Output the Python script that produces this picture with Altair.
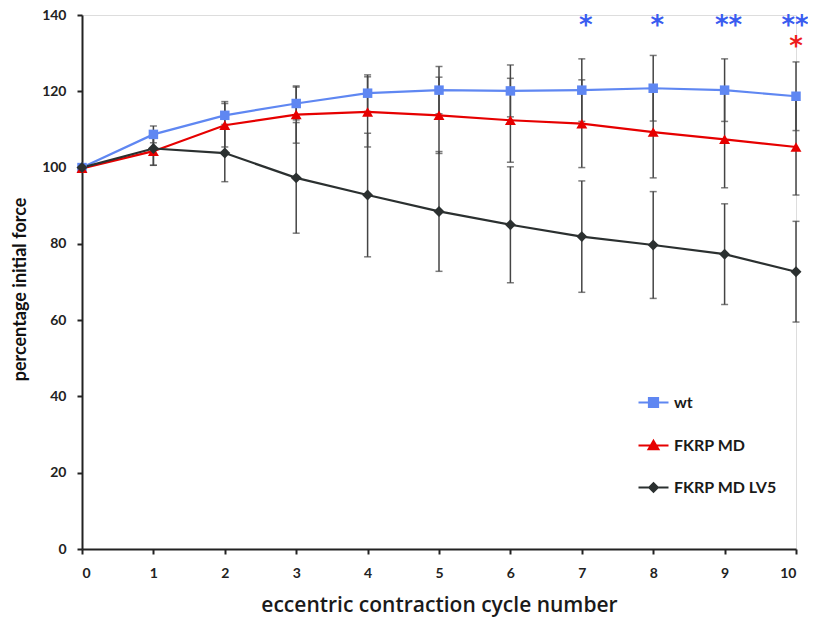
import altair as alt
import pandas as pd

# ---- data ----
cycles = list(range(11))
wt_mean = [100, 108.7, 113.7, 116.8, 119.5, 120.3, 120.1, 120.3, 120.8, 120.3, 118.7]
wt_sd = [0.5, 2.2, 3.6, 4.3, 4.8, 6.2, 6.8, 8.2, 8.6, 8.2, 9.0]
md_mean = [99.8, 104.3, 111.1, 113.9, 114.6, 113.7, 112.4, 111.5, 109.3, 107.4, 105.4]
md_sd = [0.5, 3.7, 5.7, 7.5, 9.2, 10.0, 11.0, 11.5, 12.0, 12.7, 12.6]
lv5_mean = [100, 105.0, 103.8, 97.3, 92.8, 88.5, 85.0, 81.9, 79.7, 77.3, 72.7]
lv5_sd = [0.5, 4.4, 7.5, 14.5, 16.2, 15.7, 15.2, 14.6, 14.0, 13.2, 13.2]

series_names = ["wt", "FKRP MD", "FKRP MD LV5"]

wt_star_cycles = [7, 8, 9, 10]
wt_star_text = ["*", "*", "**", "**"]
md_star_cycles = [10]
md_star_text = ["*"]

y_ticks = [0, 20, 40, 60, 80, 100, 120, 140]

# ---- styles ----
colors = {"wt": "#5f87f2", "FKRP MD": "#e60000", "FKRP MD LV5": "#2b3030"}
shapes = {"wt": "square", "FKRP MD": "triangle-up", "FKRP MD LV5": "diamond"}
sizes = {"wt": 90, "FKRP MD": 120, "FKRP MD LV5": 120}
legend_paths = {
    "wt": "M-1,0H1M-0.3,-0.3H0.3V0.3H-0.3Z",
    "FKRP MD": "M-1,0H1M0,-0.3L0.32,0.25H-0.32Z",
    "FKRP MD LV5": "M-1,0H1M0,-0.28L0.28,0L0,0.28L-0.28,0Z",
}
FONT = "Lato"

frames = []
for name, m, s in [("wt", wt_mean, wt_sd), ("FKRP MD", md_mean, md_sd), ("FKRP MD LV5", lv5_mean, lv5_sd)]:
    frames.append(pd.DataFrame({
        "cycle": cycles, "mean": m,
        "lo": [a - b for a, b in zip(m, s)],
        "hi": [a + b for a, b in zip(m, s)],
        "series": name,
    }))
df = pd.concat(frames, ignore_index=True)

x_scale = alt.Scale(domain=[0, 10], nice=False)
y_scale = alt.Scale(domain=[0, 140], nice=False)

x_axis = alt.Axis(values=cycles, format="d", grid=False, title="eccentric contraction cycle number",
                  domainColor="#222", domainWidth=2, tickColor="#222", tickWidth=2, tickSize=5,
                  labelFont=FONT, labelFontSize=14, labelFontWeight="bold", labelColor="#222",
                  labelPadding=12,
                  titleFont="Open Sans", titleFontSize=21, titleFontWeight=600, titleColor="#1a1a1a",
                  titleY=62, titleBaseline="alphabetic")
y_axis = alt.Axis(values=y_ticks, grid=False, title="percentage initial force",
                  domainColor="#222", domainWidth=2, tickColor="#222", tickWidth=2, tickSize=5,
                  labelFont=FONT, labelFontSize=14, labelFontWeight="bold", labelColor="#222",
                  labelPadding=11,
                  titleFont=FONT, titleFontSize=18, titleFontWeight="bold", titleColor="#111",
                  titleX=-62, titleY=274, titleBaseline="middle", titleAngle=-90)

base = alt.Chart(df)
layers = []

# error bars
layers.append(base.mark_rule(color="#454545", strokeWidth=1.5).encode(
    x=alt.X("cycle:Q", scale=x_scale, axis=x_axis),
    y=alt.Y("lo:Q", scale=y_scale, axis=y_axis), y2="hi:Q"))
for col in ["lo", "hi"]:
    layers.append(base.mark_tick(color="#454545", orient="horizontal", size=7, thickness=1.5).encode(
        x=alt.X("cycle:Q", scale=x_scale), y=alt.Y(f"{col}:Q", scale=y_scale)))

for name in series_names:
    sub = base.transform_filter(alt.datum.series == name)
    layers.append(sub.mark_line(color=colors[name], strokeWidth=2.2).encode(
        x=alt.X("cycle:Q", scale=x_scale), y=alt.Y("mean:Q", scale=y_scale)))
for name in series_names:
    sub = base.transform_filter(alt.datum.series == name)
    layers.append(sub.mark_point(color=colors[name], filled=True, opacity=1, shape=shapes[name],
                                 size=sizes[name]).encode(
        x=alt.X("cycle:Q", scale=x_scale), y=alt.Y("mean:Q", scale=y_scale)))

# legend-only layer (no rows drawn)
leg = alt.Legend(title=None, orient="none", legendX=555, legendY=371, padding=0,
                 symbolSize=900, symbolStrokeWidth=2.2, symbolOpacity=1,
                 labelFont=FONT, labelFontSize=16, labelFontWeight="bold", labelColor="#1a1a1a",
                 rowPadding=17, labelOffset=4)
dom = series_names
layers.append(base.transform_filter("datum.cycle < 0").mark_point(filled=True).encode(
    x=alt.X("cycle:Q", scale=x_scale), y=alt.Y("mean:Q", scale=y_scale),
    fill=alt.Fill("series:N", scale=alt.Scale(domain=dom, range=[colors[n] for n in dom]), legend=leg),
    stroke=alt.Stroke("series:N", scale=alt.Scale(domain=dom, range=[colors[n] for n in dom]), legend=leg),
    shape=alt.Shape("series:N", scale=alt.Scale(domain=dom, range=[legend_paths[n] for n in dom]), legend=leg),
))

# significance stars
wt_stars = pd.DataFrame({"cycle": wt_star_cycles, "t": wt_star_text})
md_stars = pd.DataFrame({"cycle": md_star_cycles, "t": md_star_text})
star_style = dict(font="DejaVu Sans", fontSize=26, fontWeight="bold", baseline="alphabetic")
layers.append(alt.Chart(wt_stars).transform_filter("datum.cycle < 10").mark_text(
    color="#3a5cf0", dx=4, **star_style).encode(
    x=alt.X("cycle:Q", scale=x_scale), y=alt.value(19), text="t:N"))
layers.append(alt.Chart(wt_stars).transform_filter("datum.cycle >= 10").mark_text(
    color="#3a5cf0", dx=-1, **star_style).encode(
    x=alt.X("cycle:Q", scale=x_scale), y=alt.value(19), text="t:N"))
layers.append(alt.Chart(md_stars).mark_text(color="#ee1c1c", dx=0, **star_style).encode(
    x=alt.X("cycle:Q", scale=x_scale), y=alt.value(40), text="t:N"))

chart = alt.layer(*layers).properties(
    width=714, height=534,
    autosize=alt.AutoSizeParams(type="none"),
    padding={"left": 74, "top": 7, "right": 12, "bottom": 69},
).configure_view(stroke=None).configure(background="white")

chart.save("out.html", embed_options={"renderer": "svg", "actions": False})
